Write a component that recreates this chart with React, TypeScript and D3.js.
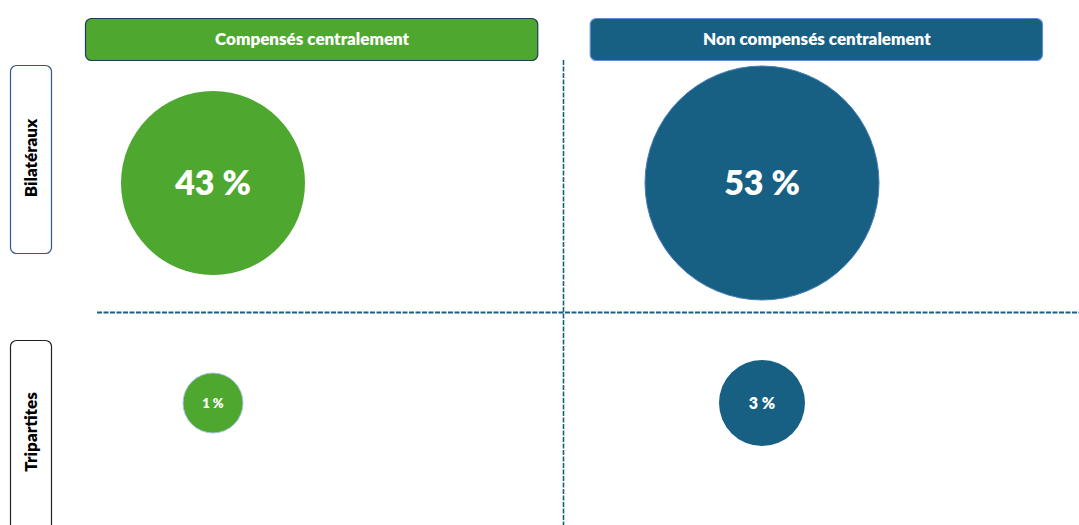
import React, { useEffect, useRef } from 'react'
import * as d3 from 'd3'

// columns / rows of the matrix
const columns = ['Compensés centralement', 'Non compensés centralement']
const rows = ['Bilatéraux', 'Tripartites']
// share of each cell, in %, listed by row then column
const bilateralValues = [43, 53]
const tripartiteValues = [1, 3]
const colColors = ['#4ea72e', '#176084']

const W = 1079, H = 525
const FONT = 'Lato, "Open Sans", sans-serif'

export default function App() {
    const ref = useRef<SVGSVGElement>(null)

    useEffect(() => {
        const svg = d3.select(ref.current)
        svg.selectAll('*').remove()

        const x = d3.scaleBand().domain(columns).range([85, 1044]).paddingInner(0.1)
        // radius scale read off the picture, not strictly area based
        const r = d3.scaleLinear().domain([1, 3, 43, 53]).range([30, 43, 92, 117])
        const fontSize = d3.scaleLinear().domain([1, 3, 43, 53]).range([13, 16, 34, 34])

        // column headers
        const head = svg.append('g')
        columns.forEach((c, i) => {
            head.append('rect')
                .attr('x', x(c)! + 0.5).attr('y', 18.5)
                .attr('width', x.bandwidth() - 2).attr('height', 42)
                .attr('rx', 6)
                .attr('fill', colColors[i])
                .attr('stroke', i === 0 ? '#1f3b5c' : '#5b8fcf')
                .attr('stroke-width', 1.2)
            head.append('text')
                .attr('x', x(c)! + x.bandwidth() / 2).attr('y', 39)
                .attr('dy', '0.35em')
                .attr('text-anchor', 'middle')
                .attr('fill', '#fff')
                .attr('font-family', FONT)
                .attr('font-weight', 800)
                .attr('font-size', 17)
                .attr('letter-spacing', 0)
                .text(c)
        })

        // row labels
        const rowBoxes = [[65, 253, '#2f5597'], [340, 540, '#222']] as const
        rows.forEach((rw, i) => {
            const [y0, y1, stroke] = rowBoxes[i]
            svg.append('rect')
                .attr('x', 10.5).attr('y', y0 + 0.5)
                .attr('width', 41).attr('height', y1 - y0)
                .attr('rx', 6)
                .attr('fill', '#fff')
                .attr('stroke', stroke)
                .attr('stroke-width', 1.2)
            const cy = i === 0 ? 158 : 432
            svg.append('text')
                .attr('transform', `translate(31,${cy}) rotate(-90)`)
                .attr('dy', '0.35em')
                .attr('text-anchor', 'middle')
                .attr('fill', '#000')
                .attr('font-family', FONT)
                .attr('font-weight', 800)
                .attr('font-size', 17)
                .text(rw)
        })

        // dividers
        svg.append('line')
            .attr('x1', 563.5).attr('x2', 563.5).attr('y1', 60).attr('y2', H)
            .attr('stroke', '#176084').attr('stroke-width', 1.6)
            .attr('stroke-dasharray', '5 1.5')
        svg.append('line')
            .attr('x1', 97).attr('x2', W).attr('y1', 312.5).attr('y2', 312.5)
            .attr('stroke', '#176084').attr('stroke-width', 2)
            .attr('stroke-dasharray', '5 1.5')

        // bubbles
        const cells = [
            ...bilateralValues.map((v, i) => ({ row: rows[0], col: i, v })),
            ...tripartiteValues.map((v, i) => ({ row: rows[1], col: i, v })),
        ]
        const cx = [213, 762]
        const cyRow: Record<string, number> = { [rows[0]]: 183, [rows[1]]: 403 }
        const g = svg.append('g')
        cells.forEach(d => {
            const px = cx[d.col], py = cyRow[d.row]
            g.append('circle')
                .attr('cx', px).attr('cy', py).attr('r', r(d.v))
                .attr('fill', colColors[d.col])
                .attr('stroke', d.v === 53 ? '#4a7ebb' : d.v === 1 ? '#a9c6e8' : 'none')
                .attr('stroke-width', 1)
            g.append('text')
                .attr('x', px).attr('y', py)
                .attr('dy', '0.35em')
                .attr('text-anchor', 'middle')
                .attr('fill', '#fff')
                .attr('font-family', FONT)
                .attr('font-weight', 800)
                .attr('font-size', fontSize(d.v))
                .text(`${d.v} %`)
        })
    }, [])

    return (
        <svg ref={ref} width={W} height={H}
            style={{ position: 'absolute', left: 0, top: 0, background: '#fff' }} />
    )
}
